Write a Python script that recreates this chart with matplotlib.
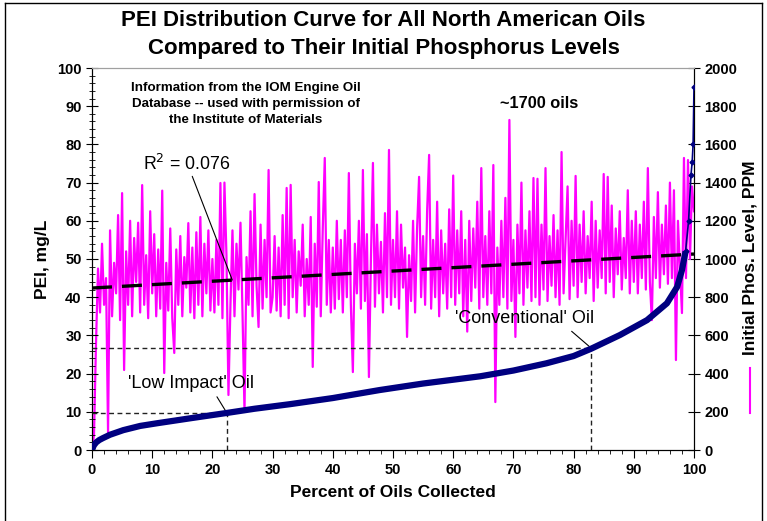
import matplotlib.pyplot as plt
from matplotlib.lines import Line2D

plt.rcParams['font.family'] = ['Liberation Sans', 'DejaVu Sans']

# phosphorus level of each oil (ppm), in the order the oils are sorted by PEI
phos_ppm = [
    0, 80, 560, 950, 720, 1080, 760, 900, 90, 1150, 700, 980, 820, 1230, 680, 1345, 419, 1040, 760, 1200,
    700, 1110, 880, 1190, 720, 1387, 760, 1020, 690, 1250,
    820, 1130, 700, 1050, 740, 1358, 403, 980, 730, 1160, 690, 508, 1050, 760, 1120, 700, 1010, 850, 1188, 720,
    1060, 690, 1140, 760, 1220, 700, 1080, 820, 1150, 730,
    1000, 720, 1100, 760, 1398, 690, 1400, 1020, 288, 760, 1150, 700, 1080, 840, 1190, 720, 199, 1010, 760, 1250,
    700, 1340, 860, 644, 1180, 740, 1100, 800, 1466, 720,
    800, 1120, 730, 1060, 700, 1230, 760, 1372, 690, 1388, 800, 1100, 720, 1040, 860, 1180, 700, 1000, 760, 1220,
    435, 1080, 750, 1403, 700, 1160, 1529, 760, 1100, 720,
    1060, 740, 1200, 790, 1100, 720, 1150, 800, 1450, 760, 408, 1080, 820, 1200, 740, 1466, 780, 1130, 382, 1000,
    1503, 750, 1180, 820, 1090, 720, 1240, 800, 1571, 760,
    1100, 800, 1250, 740, 1180, 850, 1060, 592, 1020, 780, 1200, 720, 1160, 1430, 800, 1120, 760, 1250, 1545, 740,
    1100, 800, 1300, 700, 1150, 820, 1080, 740, 1260, 800,
    1437, 760, 1150, 820, 1250, 700, 1100, 620, 1200, 780, 1160, 850, 1300, 740, 1476, 800, 1120, 760, 1250, 820,
    1492, 251, 1060, 760, 1200, 800, 1320, 740, 1728, 780,
    1100, 592, 1180, 820, 1400, 760, 1150, 850, 1250, 780, 1424, 800, 1420, 760, 1180, 840, 1476, 780, 1120, 860,
    1230, 800, 1150, 760, 1560, 820, 1100, 1380, 790, 1200,
    860, 1435, 800, 1180, 880, 1250, 820, 1120, 900, 1300, 780, 1200, 850, 1150, 900, 1445, 820, 1430, 880, 1280,
    800, 1160, 920, 1250, 840, 1110, 900, 1360, 820, 1200,
    880, 1250, 820, 1180, 900, 1300, 840, 1476, 880, 680, 1220, 900, 1350, 850, 1180, 920, 1280, 870, 1400, 900,
    1360, 471, 1200, 950, 717, 1529, 900, 1518, 1000, 1380,
    1250,
]
phos_pct = [i * 100 / (len(phos_ppm) - 1) for i in range(len(phos_ppm))]

# sorted PEI distribution curve
pei_pct = [0, 0.3, 0.7, 1.2, 1.8, 3, 5.2, 8, 10.8, 16.3, 22.4, 27, 32.9, 40, 47.8, 55, 64.5, 70, 75.5,
           80, 82.9, 87.7, 92.2, 95.5, 97.2, 98, 98.6, 99.1, 99.5, 99.7, 99.85, 100]
pei_val = [0, 1.2, 2.0, 2.6, 3.1, 4.0, 5.2, 6.3, 7.0, 8.3, 9.7, 10.8, 12.0, 13.6, 15.7, 17.4, 19.3, 20.8,
           22.7, 24.6, 26.5, 30.1, 34, 38.4, 42.7, 47.1, 52, 60, 72, 75.5, 80, 95]

# linear trend of phosphorus (ppm) at 0 and 100 %
trend_pct = [0, 100]
trend_ppm = [848, 1026]

low_impact = (22.4, 9.7)
conventional = (82.9, 26.7)

fig = plt.figure(figsize=(7.67, 5.21), dpi=100)
ax = fig.add_axes([92 / 767, 1 - 450 / 521, 602 / 767, 382 / 521])
ax2 = ax.twinx()
ax.set_zorder(ax2.get_zorder() + 1)
ax.patch.set_visible(False)

# grey background of the plot area
ax2.set_facecolor('#dcdcdc')

ax2.plot(phos_pct, phos_ppm, color='#ff00ff', lw=1.6, zorder=2)
ax2.plot(trend_pct, trend_ppm, color='black', lw=2.4, dashes=(6, 3), zorder=3)

ax.plot(pei_pct[:-5], pei_val[:-5], color='#000080', lw=4.5, solid_capstyle='butt', zorder=4)
ax.plot(pei_pct[-6:], pei_val[-6:], color='#000080', lw=1.2, marker='D', ms=2.5, zorder=4)

for xv, yv in (low_impact, conventional):
    ax.plot([0, xv], [yv, yv], color='#222222', lw=1, dashes=(3.5, 2.5), zorder=3)
    ax.plot([xv, xv], [0, yv], color='#222222', lw=1, dashes=(3.5, 2.5), zorder=3)

ax.set_xlim(0, 100)
ax.set_ylim(0, 100)
ax2.set_ylim(0, 2000)
ax.set_xticks(range(0, 101, 10))
ax.set_xticks(range(0, 101, 2), minor=True)
ax.set_yticks(range(0, 101, 10))
ax.set_yticks(range(0, 101, 2), minor=True)
ax2.set_yticks(range(0, 2001, 200))

ax.tick_params(axis='x', which='major', direction='out', length=6, labelsize=10.5, pad=3)
ax.tick_params(axis='x', which='minor', direction='out', length=3)
ax.tick_params(axis='y', which='major', direction='inout', length=8, labelsize=10.5)
ax.tick_params(axis='y', which='minor', direction='inout', length=5)
ax2.tick_params(axis='y', which='major', direction='inout', length=8, labelsize=10.5)
for lab in ax.get_xticklabels() + ax.get_yticklabels() + ax2.get_yticklabels():
    lab.set_fontweight('bold')

for a in (ax, ax2):
    a.spines['top'].set_color('#a0a0a0')
    a.spines['top'].set_linewidth(0.8)

ax.set_xlabel('Percent of Oils Collected', fontsize=12.5, fontweight='bold', labelpad=6)
ax.set_ylabel('PEI, mg/L', fontsize=12.5, fontweight='bold', labelpad=5)

fig.text(0.5, 0.960, 'PEI Distribution Curve for All North American Oils',
         ha='center', va='center', fontsize=16, fontweight='bold')
fig.text(0.5, 0.906, 'Compared to Their Initial Phosphorus Levels',
         ha='center', va='center', fontsize=16, fontweight='bold')

# rotated legend at the right
fig.text(750 / 767, 1 - 258 / 521, 'Initial Phos. Level, PPM', rotation=90,
         ha='center', va='center', fontsize=12.5, fontweight='bold')
fig.add_artist(Line2D([750 / 767, 750 / 767], [1 - 368 / 521, 1 - 413 / 521],
                      color='#ff00ff', lw=1.5))

ax.text(25.6, 90.6, 'Information from the IOM Engine Oil\nDatabase -- used with permission of\nthe Institute of Materials',
        ha='center', va='center', fontsize=9.6, fontweight='bold', linespacing=1.45)
ax.text(74.3, 90.6, '~1700 oils', ha='center', va='center', fontsize=11.8, fontweight='bold')

ax.annotate('R$^2$ = 0.076', xy=(23.3, 44.5), xytext=(8.5, 75), fontsize=12.8,
            ha='left', va='center',
            arrowprops=dict(arrowstyle='-', color='black', lw=0.8, shrinkA=0, shrinkB=0,
                            relpos=(0.55, 0)))
ax.annotate("'Low Impact' Oil", xy=low_impact, xytext=(6, 17.5), fontsize=13,
            ha='left', va='center',
            arrowprops=dict(arrowstyle='-', color='black', lw=0.8, shrinkA=2, shrinkB=0,
                            relpos=(0.68, 0)))
ax.annotate("'Conventional' Oil", xy=conventional, xytext=(60.3, 34.5), fontsize=13,
            ha='left', va='center',
            arrowprops=dict(arrowstyle='-', color='black', lw=0.8, shrinkA=2, shrinkB=0,
                            relpos=(0.8, 0)))

# outer frame of the chart
for xs, ys in (([5, 5], [3, 521]), ([5, 762], [3, 3]), ([762, 762], [3, 521])):
    fig.add_artist(Line2D([x / 767 for x in xs], [1 - y / 521 for y in ys], color='black', lw=1))

fig.savefig('out.png', dpi=100)
